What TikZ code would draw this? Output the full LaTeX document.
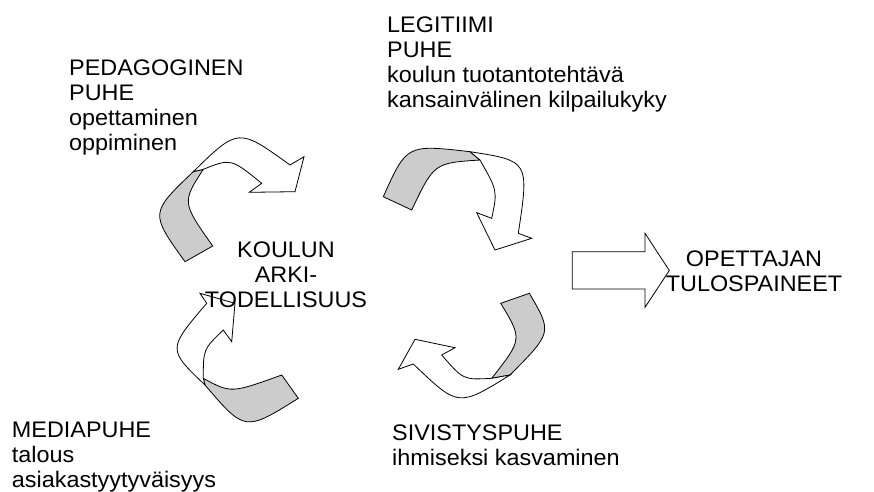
\documentclass[tikz,border=0pt]{standalone}
\usepackage{fontspec}
\setmainfont{Liberation Sans}[FakeStretch=1.04]
\definecolor{shade}{RGB}{204,204,204}
\begin{document}
\begin{tikzpicture}[x=1pt,y=-1pt,
  ar/.style={draw=black,line width=0.8pt,line join=miter,fill=white},
  back/.style={draw=black,line width=0.8pt,line join=miter,fill=shade},
  lbl/.style={font=\fontsize{22.5}{25}\selectfont,inner sep=0pt,align=left,anchor=base west},
  ctr/.style={font=\fontsize{22.5}{25}\selectfont,inner sep=0pt,align=center,anchor=base}]
\useasboundingbox (0,0) rectangle (874,491);
\fill[white] (0,0) rectangle (874,491);

% arrow A (top left)
\draw[back] (193.3,171.7) .. controls (150,213) .. (185,261.7) -- (212.7,246)
  .. controls (182,202.3) .. (203.3,169.3) -- cycle;
\draw[ar] (193.3,171.7) .. controls (238.3,127.7) .. (290,165) -- (304,156.7) -- (295,191.7)
  -- (249.3,192.3) -- (261.7,183.3) .. controls (230.9,158.3) .. (203.3,169.3) -- cycle;

% arrow B (top right)
\draw[back] (383.3,196.7) .. controls (406.7,144.4) .. (470,151.7) -- (480,160)
  .. controls (434.1,163) .. (411.7,210) -- cycle;
\draw[ar] (470,151.7) .. controls (529.2,160.9) .. (518.3,233.3) -- (531.7,238.3) -- (495,250)
  -- (476.7,212.7) -- (491.7,218.3) .. controls (497.5,190.8) .. (480,160) -- cycle;

% arrow C (bottom right)
\draw[back] (500.7,303.3) -- (529.3,293.3) .. controls (552.3,332.4) .. (510,375)
  -- (491.7,378.3) .. controls (522.4,339.2) .. (500.7,303.3) -- cycle;
\draw[ar] (491.7,378.3) .. controls (463.3,379.9) .. (441.7,355) -- (455,347.7) -- (415,339.3)
  -- (398.3,369.3) -- (413.3,364) .. controls (458.3,407.1) .. (510,375) -- cycle;

% arrow D (bottom left)
\draw[back] (281.7,375) -- (298.3,398.3) .. controls (244.9,431.7) .. (205,385)
  -- (203.3,378.3) .. controls (230.9,393.3) .. (281.7,375) -- cycle;
\draw[ar] (205,385) .. controls (167.5,349.2) .. (206.7,303.3) -- (200,293.3) -- (235,303.3)
  -- (231.7,341.7) -- (223.3,330) .. controls (203.3,349.2) .. (203.3,378.3) -- cycle;

% block arrow
\draw[ar] (572.3,251.7) -- (645,251.7) -- (645,233.3) -- (669.3,270.5) -- (645,307.3)
  -- (645,289) -- (572.3,289) -- cycle;

\node[lbl] (ped) at (69,150.7) {PEDAGOGINEN\\PUHE\\opettaminen\\oppiminen};
\node[lbl] (leg) at (387,107.3) {LEGITIIMI\\PUHE\\koulun tuotantotehtävä\\kansainvälinen kilpailukyky};
\node[ctr] (kou) at (286,307.3) {KOULUN\\ARKI-\\TODELLISUUS};
\node[ctr] (ope) at (754,291.5) {OPETTAJAN\\TULOSPAINEET};
\node[lbl] (med) at (11.7,487) {MEDIAPUHE\\talous\\asiakastyytyväisyys};
\node[lbl] (siv) at (392,465.7) {SIVISTYSPUHE\\ihmiseksi kasvaminen};
\end{tikzpicture}
\end{document}
